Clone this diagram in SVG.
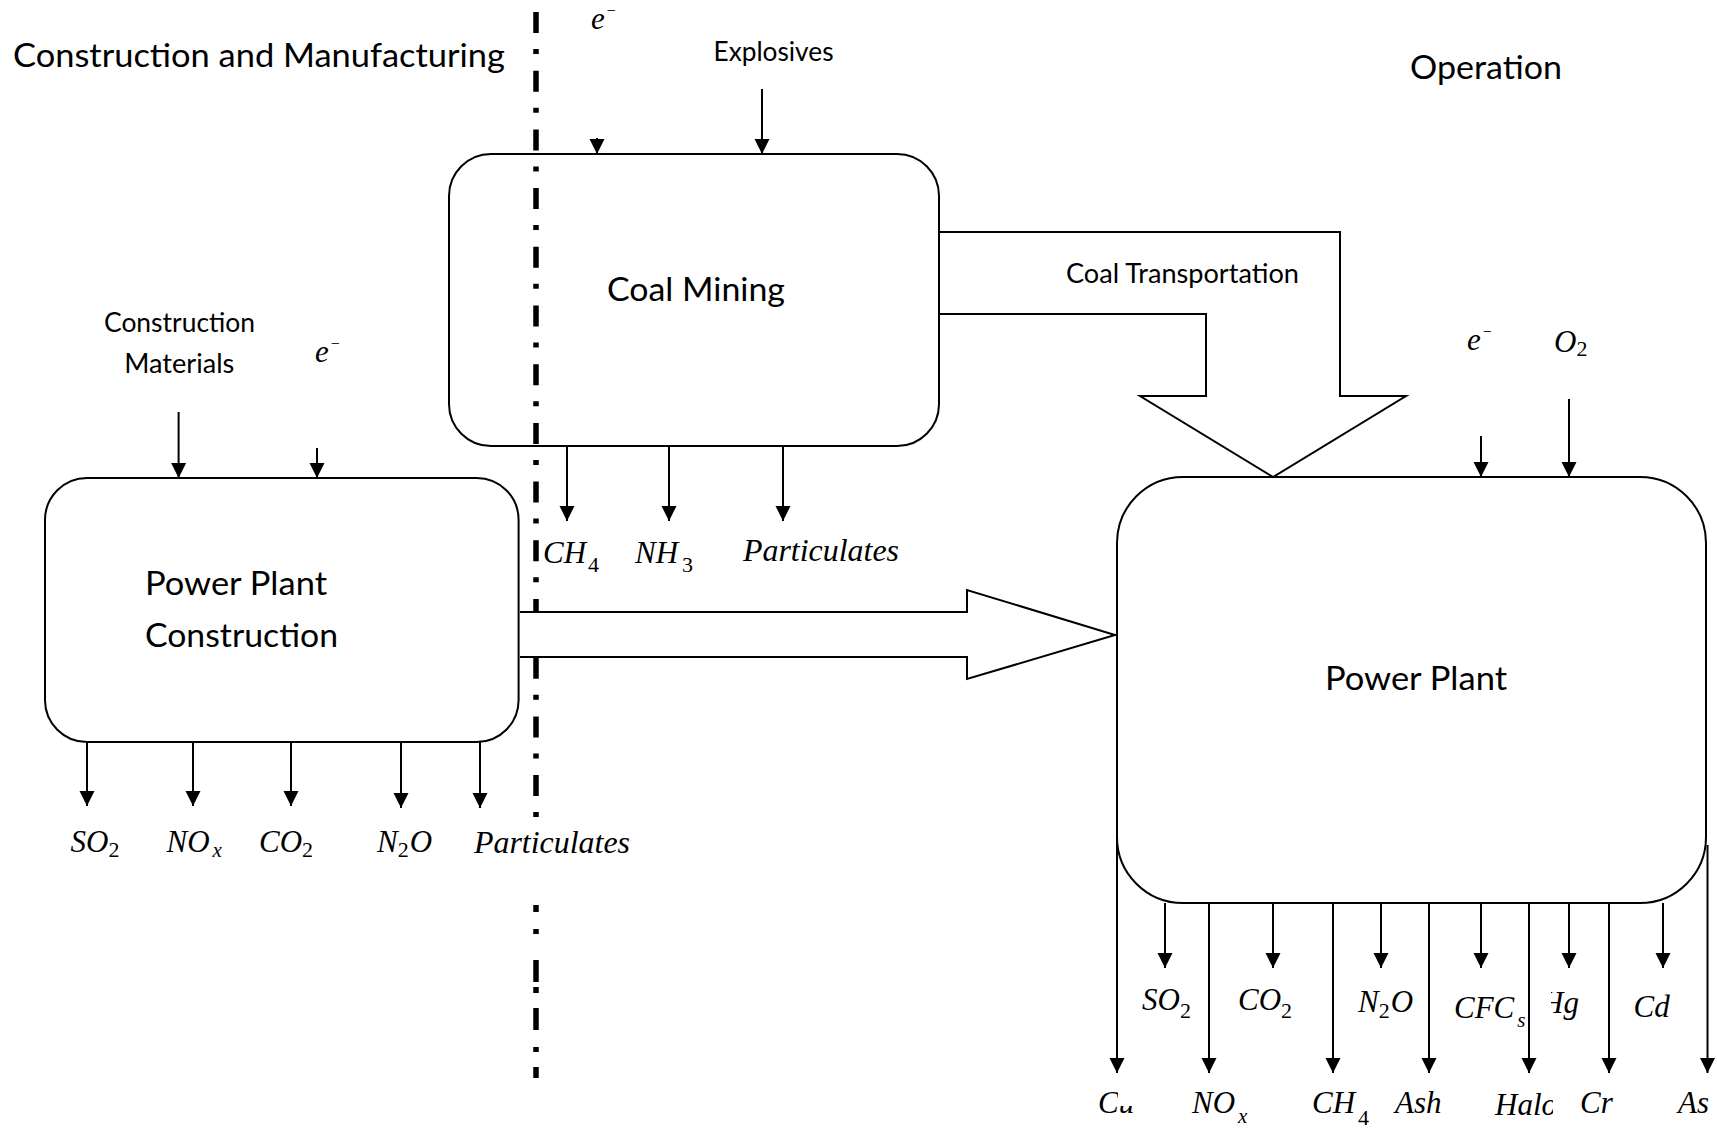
<svg xmlns="http://www.w3.org/2000/svg" width="1717" height="1128" viewBox="0 0 1717 1128">
<style>
.box{fill:#fff;stroke:#000;stroke-width:2}
.sans{font-family:Lato,"Liberation Sans",sans-serif;fill:#000}
.big{font-size:33px}
.small{font-size:26px}
.m{font-family:"Liberation Serif","Times New Roman",serif;font-style:italic;font-size:31px;fill:#000}
.sub{font-style:normal;font-size:22px}
.subi{font-size:21px}
.sup{font-style:normal;font-size:16px}
.arr{stroke:#000;stroke-width:2;fill:none;marker-end:url(#ah)}
.fat{fill:#fff;stroke:#000;stroke-width:2;stroke-linejoin:miter}
.dd{stroke:#000;stroke-width:5.5;fill:none}
</style>
<defs>
<marker id="ah" viewBox="0 0 10 10" refX="10" refY="5" markerWidth="15" markerHeight="16" markerUnits="userSpaceOnUse" orient="auto">
<path d="M0,0 L10,5 L0,10 z" fill="#000"/>
</marker>
<clipPath id="clipCu"><path d="M1085,1070 H1118 V1106 H1145 V1130 H1085 Z"/></clipPath>
<clipPath id="clipHg"><rect x="1551" y="980" width="60" height="50"/></clipPath>
<clipPath id="clipHalo"><rect x="1480" y="1080" width="73" height="48"/></clipPath>
</defs>
<rect x="0" y="0" width="1717" height="1128" fill="#fff"/>

<g id="node-coal-mining">
<rect class="box" x="449" y="154" width="490" height="292" rx="42" ry="42"/>
<text class="sans big" x="607" y="301" textLength="178" lengthAdjust="spacingAndGlyphs">Coal Mining</text>
</g>
<g id="node-power-plant-construction">
<rect class="box" x="45" y="478" width="473.6" height="264" rx="42" ry="42"/>
<text class="sans big" x="145" y="595" textLength="182" lengthAdjust="spacingAndGlyphs">Power Plant</text>
<text class="sans big" x="145" y="647" textLength="193" lengthAdjust="spacingAndGlyphs">Construction</text>
</g>
<g id="node-power-plant">
<rect class="box" x="1117" y="477" width="589" height="426" rx="66" ry="66"/>
<text class="sans big" x="1325" y="690" textLength="182" lengthAdjust="spacingAndGlyphs">Power Plant</text>
</g>

<g id="boundary">
<line class="dd" x1="536" y1="12" x2="536" y2="817" stroke-dasharray="21 16 5 16.7"/>
<line class="dd" x1="536" y1="905" x2="536" y2="1078" stroke-dasharray="7 17 5 26 22 5 6 15 22 17 5 15 11 100"/>
</g>

<g id="connectors">
<path class="fat" d="M940,232 H1340 V396 H1406 L1273,477 L1140,396 H1206 V314 H940"/>
<path class="fat" d="M520,612 H967 V590 L1115,635 L967,679 V657 H520"/>
<line class="arr" x1="597" y1="138" x2="597" y2="154"/>
<line class="arr" x1="762" y1="89" x2="762" y2="154"/>
<line class="arr" x1="567" y1="446" x2="567" y2="521"/>
<line class="arr" x1="669" y1="446" x2="669" y2="521"/>
<line class="arr" x1="783" y1="446" x2="783" y2="521"/>
<line class="arr" x1="178.6" y1="412" x2="178.6" y2="478"/>
<line class="arr" x1="317" y1="448" x2="317" y2="478"/>
<line class="arr" x1="87" y1="742" x2="87" y2="806"/>
<line class="arr" x1="193" y1="742" x2="193" y2="806"/>
<line class="arr" x1="291" y1="742" x2="291" y2="806"/>
<line class="arr" x1="401" y1="742" x2="401" y2="808"/>
<line class="arr" x1="480" y1="742" x2="480" y2="808"/>
<line class="arr" x1="1481" y1="436" x2="1481" y2="477"/>
<line class="arr" x1="1569" y1="399" x2="1569" y2="477"/>
<line class="arr" x1="1165" y1="903" x2="1165" y2="968"/>
<line class="arr" x1="1273" y1="903" x2="1273" y2="968"/>
<line class="arr" x1="1381" y1="903" x2="1381" y2="968"/>
<line class="arr" x1="1481" y1="903" x2="1481" y2="968"/>
<line class="arr" x1="1569" y1="903" x2="1569" y2="968"/>
<line class="arr" x1="1663" y1="903" x2="1663" y2="968"/>
<line class="arr" x1="1117" y1="836" x2="1117" y2="1073"/>
<line class="arr" x1="1209" y1="903" x2="1209" y2="1073"/>
<line class="arr" x1="1333" y1="903" x2="1333" y2="1073"/>
<line class="arr" x1="1429" y1="903" x2="1429" y2="1073"/>
<line class="arr" x1="1529" y1="903" x2="1529" y2="1073"/>
<line class="arr" x1="1609" y1="903" x2="1609" y2="1073"/>
<line class="arr" x1="1707.5" y1="845" x2="1707.5" y2="1073"/>
</g>

<g id="labels">
<text class="sans big" x="13" y="67" textLength="492" lengthAdjust="spacingAndGlyphs">Construction and Manufacturing</text>
<text class="sans big" x="1410" y="79" textLength="152" lengthAdjust="spacingAndGlyphs">Operation</text>
<text class="sans small" x="713.5" y="61" textLength="120" lengthAdjust="spacingAndGlyphs">Explosives</text>
<text class="sans small" x="1066" y="283" textLength="233" lengthAdjust="spacingAndGlyphs">Coal Transportation</text>
<text class="sans small" x="104" y="332" textLength="151" lengthAdjust="spacingAndGlyphs">Construction</text>
<text class="sans small" x="124.3" y="373" textLength="110" lengthAdjust="spacingAndGlyphs">Materials</text>

<text class="m" x="591" y="29" font-size="29">e<tspan class="sup" dx="2" dy="-13">−</tspan></text>
<text class="m" x="315" y="362" font-size="29">e<tspan class="sup" dx="2" dy="-13">−</tspan></text>
<text class="m" x="1467" y="350" font-size="29">e<tspan class="sup" dx="2" dy="-13">−</tspan></text>
<text class="m" x="1554" y="352" font-size="28">O<tspan class="sub" dy="4">2</tspan></text>

<text class="m" x="543" y="563">CH<tspan class="sub" dx="2" dy="9">4</tspan></text>
<text class="m" x="635" y="563">NH<tspan class="sub" dx="4" dy="9">3</tspan></text>
<text class="m" x="743" y="561" textLength="156" lengthAdjust="spacingAndGlyphs">Particulates</text>

<text class="m" x="70.5" y="852" font-size="30">SO<tspan class="sub" dy="5">2</tspan></text>
<text class="m" x="166.5" y="852" font-size="30">NO<tspan class="subi" dx="3" dy="5">x</tspan></text>
<text class="m" x="259" y="852" font-size="30">CO<tspan class="sub" dy="5">2</tspan></text>
<text class="m" x="377" y="852" font-size="30">N<tspan class="sub" dy="5">2</tspan><tspan dx="1" dy="-5">O</tspan></text>
<text class="m" x="474" y="853" textLength="156" lengthAdjust="spacingAndGlyphs">Particulates</text>

<text class="m" x="1142" y="1010">SO<tspan class="sub" dy="8">2</tspan></text>
<text class="m" x="1238" y="1010">CO<tspan class="sub" dy="8">2</tspan></text>
<text class="m" x="1358" y="1012">N<tspan class="sub" dy="6">2</tspan><tspan dx="1" dy="-6">O</tspan></text>
<text class="m" x="1454" y="1018">CFC<tspan class="subi" dx="3" dy="9">s</tspan></text>
<text class="m" x="1541" y="1013" clip-path="url(#clipHg)">Hg</text>
<text class="m" x="1633.5" y="1017">Cd</text>

<text class="m" x="1098" y="1113" clip-path="url(#clipCu)">Cu</text>
<text class="m" x="1192" y="1113">NO<tspan class="subi" dx="3" dy="10">x</tspan></text>
<text class="m" x="1312" y="1113">CH<tspan class="sub" dx="3" dy="12">4</tspan></text>
<text class="m" x="1395" y="1113">Ash</text>
<text class="m" x="1495" y="1115" clip-path="url(#clipHalo)">Halo</text>
<text class="m" x="1580" y="1113">Cr</text>
<text class="m" x="1678" y="1113">As</text>
</g>
</svg>
